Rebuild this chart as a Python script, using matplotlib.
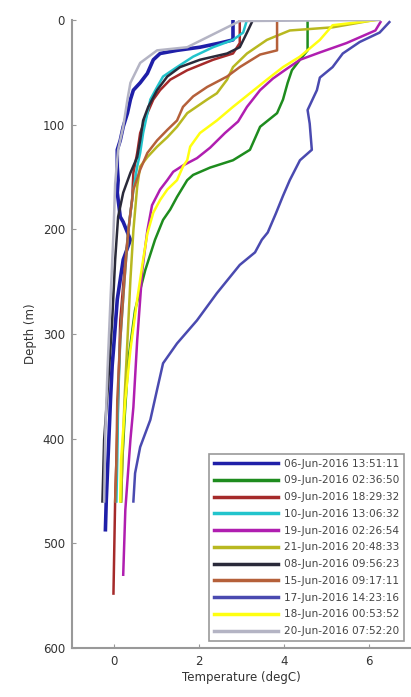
import matplotlib
matplotlib.use('Agg')
import matplotlib.pyplot as plt

# profile labels and colours, in legend order
labels = [
    '06-Jun-2016 13:51:11', '09-Jun-2016 02:36:50', '09-Jun-2016 18:29:32',
    '10-Jun-2016 13:06:32', '19-Jun-2016 02:26:54', '21-Jun-2016 20:48:33',
    '08-Jun-2016 09:56:23', '15-Jun-2016 09:17:11', '17-Jun-2016 14:23:16',
    '18-Jun-2016 00:53:52', '20-Jun-2016 07:52:20',
]
colors = ['#1f1fa8', '#1e8c1e', '#a52a2a', '#22c4cc', '#b01eb0', '#b8b820',
          '#2a2a3a', '#b5603a', '#4a4ab0', '#ffff10', '#b4b4c4']

# temperature (degC) and depth (m)
temp_0606 = [2.8, 2.8, 2.49, 2.02, 1.48, 1.08, 0.92, 0.78, 0.61, 0.45, 0.38, 0.31, 0.21, 0.14,
             0.07, 0.07, 0.09, 0.07, 0.14, 0.21, 0.38, 0.21, 0.07, -0.02, -0.05, -0.09, -0.14,
             -0.19, -0.21]
depth_0606 = [0, 19, 22, 26, 29, 32, 38, 51, 60, 67, 76, 89, 102, 115, 124, 140, 153, 165, 188,
              193, 210, 229, 267, 315, 330, 363, 411, 459, 487]

temp_0609a = [4.56, 4.56, 4.38, 4.19, 4.09, 3.98, 3.84, 3.44, 3.2, 2.8, 2.26, 1.86, 1.72, 1.48,
              1.32, 1.15, 0.96, 0.73, 0.49, 0.33, 0.24, 0.19, 0.16]
depth_0609a = [0, 29, 38, 48, 60, 76, 89, 102, 124, 134, 141, 148, 153, 169, 181, 191, 210, 239,
               277, 325, 382, 420, 460]

temp_0609b = [2.96, 2.96, 2.8, 2.33, 1.72, 1.32, 1.08, 0.92, 0.78, 0.61, 0.54, 0.45, 0.42, 0.38,
              0.26, 0.14, 0.09, 0.05, 0.02, -0.02]
depth_0609b = [0, 22, 32, 38, 48, 57, 67, 76, 89, 108, 127, 146, 172, 184, 229, 287, 363, 420,
               458, 548]

temp_0610 = [3.13, 3.04, 2.8, 2.33, 1.86, 1.48, 1.15, 1.01, 0.85, 0.78, 0.68, 0.61, 0.54, 0.45,
             0.33, 0.24, 0.14, 0.09, 0.07, 0.05]
depth_0610 = [0, 12, 19, 26, 35, 45, 54, 64, 76, 89, 108, 127, 140, 162, 201, 248, 306, 363,
              420, 460]

temp_0619 = [6.28, 6.16, 5.48, 4.85, 4.38, 4.02, 3.74, 3.44, 3.13, 2.92, 2.61, 2.26, 1.95, 1.62,
             1.39, 1.25, 1.08, 0.89, 0.78, 0.66, 0.54, 0.45, 0.38, 0.26, 0.21]
depth_0619 = [2, 10, 22, 31, 38, 48, 56, 67, 83, 97, 108, 122, 132, 139, 145, 153, 162, 177, 201,
              239, 306, 370, 401, 468, 530]

temp_0621 = [6.14, 5.15, 4.14, 3.6, 3.13, 2.8, 2.66, 2.42, 2.19, 1.72, 1.48, 1.25, 1.01, 0.78,
             0.61, 0.54, 0.45, 0.38, 0.31, 0.24, 0.19, 0.16]
depth_0621 = [0, 7, 10, 19, 32, 45, 57, 70, 76, 89, 102, 112, 121, 131, 140, 159, 201, 248, 306,
              363, 420, 460]

temp_0608 = [3.27, 3.13, 2.96, 2.66, 2.02, 1.55, 1.25, 1.01, 0.8, 0.68, 0.61, 0.54, 0.38, 0.21,
             0.09, 0.02, -0.05, -0.14, -0.24, -0.28]
depth_0608 = [0, 12, 26, 32, 38, 45, 54, 67, 83, 96, 115, 131, 146, 165, 188, 229, 287, 344,
              401, 460]

temp_0615 = [3.84, 3.84, 3.44, 2.96, 2.66, 2.19, 1.86, 1.62, 1.48, 1.25, 1.01, 0.78, 0.61, 0.45,
             0.33, 0.24, 0.14, 0.07, 0.05, 0.02]
depth_0615 = [0, 29, 33, 45, 54, 64, 73, 83, 96, 105, 115, 127, 143, 162, 201, 248, 306, 363,
              420, 460]

temp_0617 = [6.49, 6.26, 5.79, 5.39, 5.15, 4.85, 4.78, 4.56, 4.61, 4.66, 4.38, 4.14, 3.98, 3.81,
             3.62, 3.48, 3.32, 2.96, 2.42, 1.95, 1.48, 1.15, 1.01, 0.85, 0.61, 0.49, 0.45]
depth_0617 = [2, 12, 21, 32, 45, 55, 67, 86, 99, 124, 134, 153, 168, 185, 203, 210, 222, 234,
              261, 287, 309, 328, 353, 382, 408, 433, 460]

temp_0618 = [6.19, 5.15, 4.85, 4.38, 3.98, 3.6, 3.2, 2.8, 2.42, 2.02, 1.79, 1.72, 1.62, 1.48,
             1.25, 1.08, 0.92, 0.78, 0.68, 0.54, 0.38, 0.26, 0.16, 0.14]
depth_0618 = [0, 5, 19, 35, 45, 57, 70, 83, 96, 108, 121, 134, 140, 153, 162, 172, 184, 204, 229,
              267, 315, 363, 420, 460]

temp_0620 = [6.26, 2.96, 1.72, 1.01, 0.61, 0.38, 0.31, 0.21, 0.09, 0.02, -0.02, -0.09, -0.16,
             -0.21, -0.24]
depth_0620 = [0, 1, 26, 29, 41, 60, 76, 102, 124, 156, 204, 267, 334, 391, 460]

temps = [temp_0606, temp_0609a, temp_0609b, temp_0610, temp_0619, temp_0621,
         temp_0608, temp_0615, temp_0617, temp_0618, temp_0620]
depths = [depth_0606, depth_0609a, depth_0609b, depth_0610, depth_0619, depth_0621,
          depth_0608, depth_0615, depth_0617, depth_0618, depth_0620]

x_ticks = [0, 2, 4, 6]
y_ticks = [0, 100, 200, 300, 400, 500, 600]

fig = plt.figure(figsize=(4.11, 6.97), dpi=100)
ax = fig.add_axes([0.175, 0.0703, 0.825, 0.901])

for i in range(len(labels)):
    lw = 2.6 if i == 0 else 1.8
    ax.plot(temps[i], depths[i], color=colors[i], lw=lw, label=labels[i])

ax.set_xlim(-1, 7)
ax.set_ylim(600, 0)
ax.set_xticks(x_ticks)
ax.set_yticks(y_ticks)

for side in ['top', 'right']:
    ax.spines[side].set_visible(False)
for side in ['left', 'bottom']:
    ax.spines[side].set_color('#999999')
    ax.spines[side].set_linewidth(1.5)
ax.tick_params(direction='in', length=3, color='#999999', labelsize=8.5,
               labelcolor='#333333', pad=5)

ax.set_xlabel('Temperature (degC)', fontsize=8.5, color='#333333', labelpad=2)
ax.set_ylabel('Depth (m)', fontsize=8.5, color='#333333', labelpad=4)

leg = ax.legend(loc='lower right', bbox_to_anchor=(404 / 411, 1 - 641 / 697),
                bbox_transform=fig.transFigure, fontsize=7.6, handlelength=6.0,
                labelspacing=0.64, borderpad=0.45, handletextpad=0.6, fancybox=False,
                framealpha=1, borderaxespad=0)
leg.get_frame().set_edgecolor('#999999')
leg.get_frame().set_linewidth(1.2)
for line in leg.get_lines():
    line.set_linewidth(2.5)
for t in leg.get_texts():
    t.set_color('#444444')

fig.savefig('out.png', dpi=100)
